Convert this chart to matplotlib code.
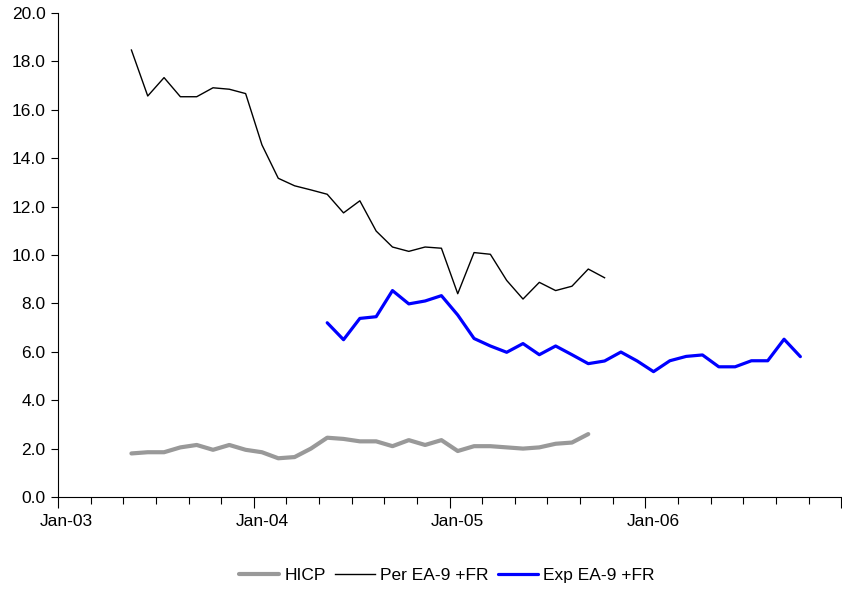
import matplotlib
matplotlib.use("Agg")
import matplotlib.pyplot as plt
import numpy as np

plt.rcParams['font.family'] = ['Liberation Sans', 'DejaVu Sans']

# Monthly categories Jan-03 .. Dec-06 (48 months)
months = ["Jan", "Feb", "Mar", "Apr", "May", "Jun", "Jul", "Aug", "Sep", "Oct", "Nov", "Dec"]
years = ["03", "04", "05", "06"]
categories = [f"{m}-{y}" for y in years for m in months]

# HICP: May-03 .. Sep-05
hicp_start = "May-03"
hicp = [1.8, 1.85, 1.85, 2.05, 2.15, 1.95, 2.15, 1.95, 1.85, 1.6, 1.65, 2.0,
        2.45, 2.4, 2.3, 2.3, 2.1, 2.35, 2.15, 2.35, 1.9, 2.1, 2.1, 2.05, 2.0,
        2.05, 2.2, 2.25, 2.6]

# Per EA-9 +FR: May-03 .. Oct-05
per_start = "May-03"
per = [18.47, 16.57, 17.33, 16.54, 16.54, 16.91, 16.85, 16.67, 14.55, 13.17,
       12.86, 12.69, 12.51, 11.74, 12.24, 10.99, 10.33, 10.15, 10.33, 10.28,
       8.40, 10.10, 10.03, 8.95, 8.18, 8.87, 8.53, 8.71, 9.42, 9.06]

# Exp EA-9 +FR: May-04 .. Oct-06
exp_start = "May-04"
exp = [7.2, 6.5, 7.38, 7.45, 8.53, 7.98, 8.10, 8.32, 7.52, 6.55, 6.24, 5.98,
       6.34, 5.88, 6.24, 5.88, 5.51, 5.62, 5.99, 5.62, 5.18, 5.63, 5.81, 5.87,
       5.38, 5.38, 5.63, 5.63, 6.52, 5.80]

yticks = [0.0, 2.0, 4.0, 6.0, 8.0, 10.0, 12.0, 14.0, 16.0, 18.0, 20.0]
xlabels = ["Jan-03", "Jan-04", "Jan-05", "Jan-06"]


def xs(start, vals):
    i0 = categories.index(start)
    return np.arange(i0, i0 + len(vals))


fig = plt.figure(figsize=(8.42, 5.91), dpi=100)
ax = fig.add_axes([58 / 842, 94 / 591, 1 - 58 / 842 - 0.001, 484 / 591])

ax.plot(xs(hicp_start, hicp), hicp, color="#999999", lw=3.0, label="HICP",
        solid_capstyle="round")
ax.plot(xs(per_start, per), per, color="black", lw=1.0, label="Per EA-9 +FR")
ax.plot(xs(exp_start, exp), exp, color="#0000FF", lw=2.3, label="Exp EA-9 +FR",
        solid_capstyle="round")

ax.set_xlim(-0.5, len(categories) - 0.5)
ax.set_ylim(0, 20)

ax.set_yticks(yticks)
ax.set_yticklabels([f"{v:.1f}" for v in yticks], fontsize=12.5)
ax.tick_params(axis="y", direction="out", length=5, width=0.8, pad=4)

# x: major ticks every 12 months (long), minor every 2 months
ax.set_xticks(np.arange(-0.5, len(categories), 12))
ax.set_xticklabels([""] * len(ax.get_xticks()))
ax.set_xticks(np.arange(-0.5, len(categories), 2), minor=True)
ax.tick_params(axis="x", which="major", direction="out", length=8, width=0.8)
ax.tick_params(axis="x", which="minor", direction="out", length=5, width=0.8)
for lab in xlabels:
    ax.text(categories.index(lab), -0.72, lab, ha="center", va="top",
            fontsize=12.5, transform=ax.transData)

for s in ["top", "right"]:
    ax.spines[s].set_visible(False)
for s in ["left", "bottom"]:
    ax.spines[s].set_linewidth(0.8)

fig.legend(loc="center", bbox_to_anchor=(447 / 842, 1 - 575 / 591), ncol=3,
           frameon=False, fontsize=12.5, handlelength=2.3, handletextpad=0.3,
           columnspacing=0.55)

fig.savefig("out.png", dpi=100)
